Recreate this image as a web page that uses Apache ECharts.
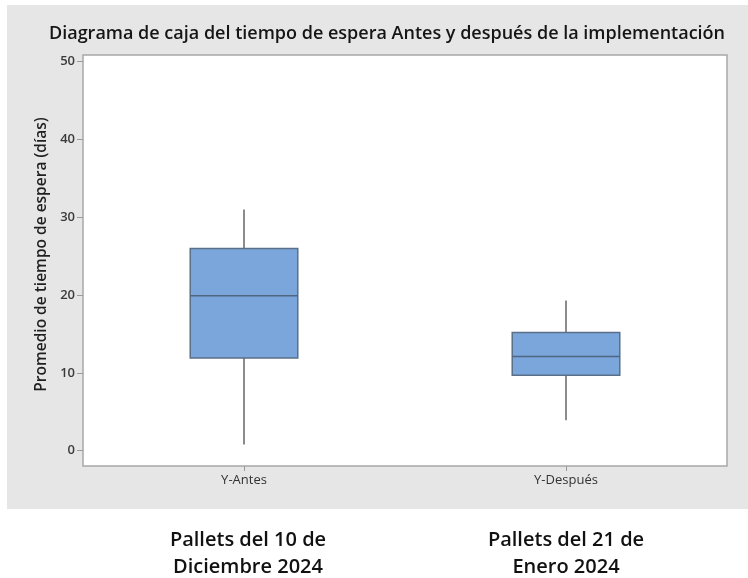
<!DOCTYPE html>
<html>
<head>
<meta charset="utf-8">
<script src="https://cdn.jsdelivr.net/npm/echarts@6/dist/echarts.min.js"></script>
<style>
  html, body { margin: 0; padding: 0; background: #ffffff; }
  #chart { width: 748px; height: 578px; }
</style>
</head>
<body>
<div id="chart"></div>
<script>
// Wait-time groups and their five-number summaries (days)
const categories = ['Y-Antes', 'Y-Después'];
const whiskerLow = [0.8, 3.9];
const q1 = [11.9, 9.7];
const median = [19.9, 12.1];
const q3 = [26.0, 15.2];
const whiskerHigh = [31.0, 19.3];
const yTicks = [0, 10, 20, 30, 40, 50];
const groupCaptions = ['Pallets del 10 de\nDiciembre 2024', 'Pallets del 21 de\nEnero 2024'];

const boxData = categories.map((c, i) => [i, whiskerLow[i], q1[i], median[i], q3[i], whiskerHigh[i]]);

const chart = echarts.init(document.getElementById('chart'), null, { renderer: 'canvas' });

function renderBox(params, api) {
  const idx = api.value(0);
  const lo = api.coord([idx, api.value(1)]);
  const b1 = api.coord([idx, api.value(2)]);
  const md = api.coord([idx, api.value(3)]);
  const b3 = api.coord([idx, api.value(4)]);
  const hi = api.coord([idx, api.value(5)]);
  const band = api.size([1, 0])[0];
  const half = band * 0.167;
  const x = lo[0];
  return {
    type: 'group',
    children: [
      { type: 'line', shape: { x1: x, y1: hi[1], x2: x, y2: b3[1] },
        style: { stroke: '#8c8c8c', lineWidth: 2 } },
      { type: 'line', shape: { x1: x, y1: b1[1], x2: x, y2: lo[1] },
        style: { stroke: '#8c8c8c', lineWidth: 2 } },
      { type: 'rect', shape: { x: x - half, y: b3[1], width: half * 2, height: b1[1] - b3[1] },
        style: { fill: '#7aa6db', stroke: '#5a6f88', lineWidth: 1.5 } },
      { type: 'line', shape: { x1: x - half, y1: md[1], x2: x + half, y2: md[1] },
        style: { stroke: '#4f6580', lineWidth: 1.5 } }
    ]
  };
}

// Group captions under the panel, one per box
const captionGraphics = groupCaptions.map((t, i) => ({
  type: 'text', z: 10,
  style: { x: [248, 566][i], y: 527, text: t, textAlign: 'center',
    font: '600 20px "Open Sans"', fill: '#111111', lineHeight: 27 }
}));

const option = {
  backgroundColor: '#ffffff',
  animation: false,
  title: {
    text: 'Diagrama de caja del tiempo de espera Antes y después de la implementación',
    left: 382,
    top: 20,
    textAlign: 'center',
    textStyle: { fontFamily: 'Open Sans', fontWeight: 600, fontSize: 18, color: '#151515' }
  },
  graphic: [
    { type: 'rect', z: -10, shape: { x: 7, y: 5, width: 741, height: 504 },
      style: { fill: '#e6e6e6' } }
  ].concat(captionGraphics),
  grid: {
    left: 83, top: 55, right: 21, bottom: 112,
    show: true, backgroundColor: '#ffffff', borderColor: '#a8a8a8', borderWidth: 1.5
  },
  xAxis: {
    type: 'category',
    data: categories,
    boundaryGap: true,
    axisLine: { show: false, onZero: false },
    axisTick: { show: true, alignWithLabel: true, length: 5, lineStyle: { color: '#9a9a9a' } },
    axisLabel: { margin: 8, fontFamily: 'Open Sans', fontSize: 13, color: '#333333' },
    splitLine: { show: false }
  },
  yAxis: {
    type: 'value',
    min: -1.97,
    max: 50.86,
    name: 'Promedio de tiempo de espera (días)',
    nameLocation: 'middle',
    nameGap: 32,
    nameTextStyle: { fontFamily: 'Open Sans', fontWeight: 600, fontSize: 15.5, color: '#1f1f1f',
      padding: [0, 0, 0, 12] },
    axisLine: { show: false },
    axisTick: { show: true, customValues: yTicks, length: 6, lineStyle: { color: '#9a9a9a' } },
    axisLabel: { customValues: yTicks, margin: 8, fontFamily: 'Open Sans', fontWeight: 600,
      fontSize: 13, color: '#3a3a3a' },
    splitLine: { show: false }
  },
  series: [{
    type: 'custom',
    renderItem: renderBox,
    encode: { x: 0, y: [1, 2, 3, 4, 5] },
    data: boxData
  }]
};

chart.setOption(option);
</script>
</body>
</html>
